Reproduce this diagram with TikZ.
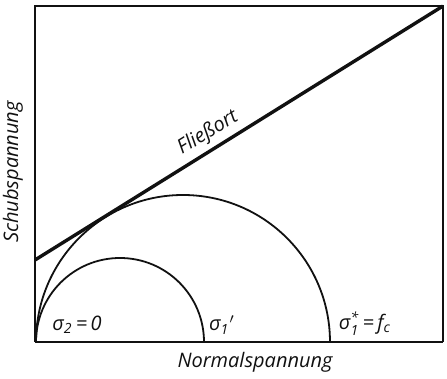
\documentclass[tikz,border=0pt]{standalone}
\usepackage{amsmath}
\usepackage{fontspec}
\setmainfont{Open Sans}
\usepackage{tikz}
\usetikzlibrary{positioning, calc}
\definecolor{mcInk}{HTML}{111111}
\tikzset{
  mc-frame/.style={draw=mcInk, line width=0.9pt},
  mc-circle/.style={draw=mcInk, line width=0.9pt},
  mc-locus/.style={draw=mcInk, line width=1.7pt},
  mc-label/.style={inner sep=1pt, text=mcInk,
    font=\fontsize{10}{12}\selectfont\itshape},
}

\begin{document}
\begin{tikzpicture}[x=0.5pt, y=-0.5pt]
  \useasboundingbox (0,0) rectangle (447,379);
  \coordinate (o)  at (35,342);
  \coordinate (tl) at (35,6);
  \coordinate (tr) at (443,6);
  \coordinate (br) at (443,342);
  \coordinate (yl) at (35,260);

  % frame
  \draw[mc-frame] (o) -- (tl) -- (tr) -- (br);
  \draw[mc-frame, line width=1.2pt] (o) -- (br);

  % Mohr circles
  \draw[mc-circle] (36,342) arc[start angle=180, end angle=360, radius=84];
  \draw[mc-circle] (36,342) arc[start angle=180, end angle=360, radius=147];

  % yield locus
  \draw[mc-locus] (yl) -- (tr);
  \node[mc-label, rotate=31.6] (locus) at (208,133) {Fließort};

  \node[mc-label] (sig2)  at (77,325)  {σ$_{\text{2}}$\,=\,0};
  \node[mc-label] (sig1)  at (222,325) {σ$_{\text{1}}$$'$};
  \node[mc-label] (sig1s) at (365,324) {σ$_{\text{1}}^{\text{*}}$\,=\,f$_{\text{c}}$};

  \node[mc-label] (xlab) at (255,362) {Normalspannung};
  \node[mc-label, rotate=90] (ylab) at (13,172) {Schubspannung};
\end{tikzpicture}
\end{document}
